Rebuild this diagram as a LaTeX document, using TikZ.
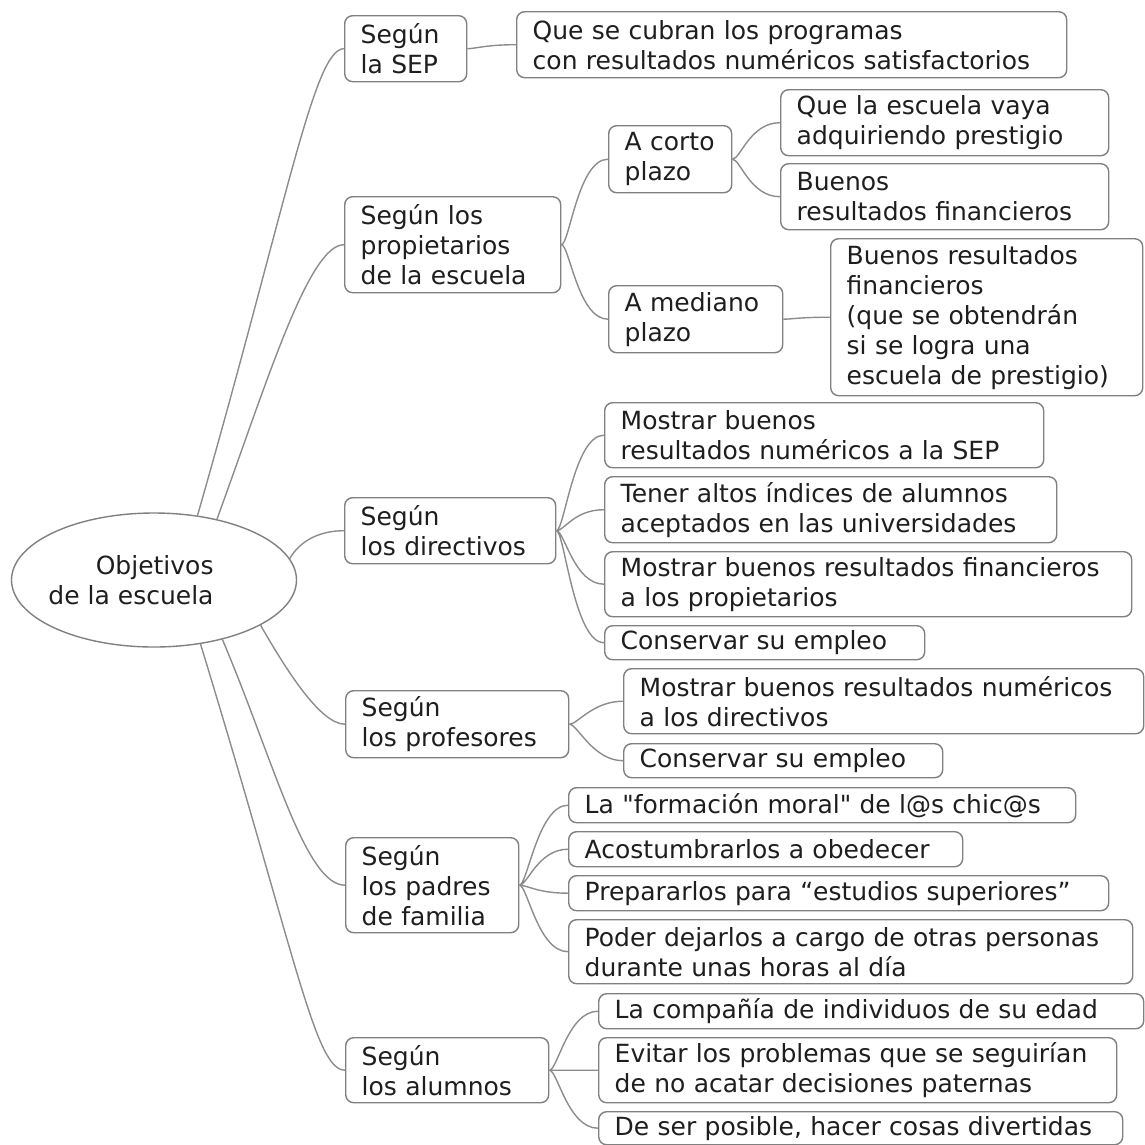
\documentclass[tikz,border=0pt]{standalone}
\usepackage{fontspec}
\setmainfont{DejaVu Sans}
\usepackage{xcolor}
\usepackage{tikz}
\usetikzlibrary{shapes.geometric}
\definecolor{mapline}{HTML}{8C8C8C}
\definecolor{mapframe}{HTML}{808080}
\definecolor{maptext}{HTML}{1E1E1E}
\tikzset{
  hub/.style={ellipse,draw=mapframe,line width=1.4pt,minimum width=285pt,
    minimum height=134pt,inner sep=0pt},
  topic/.style={rectangle,rounded corners=8pt,draw=mapframe,line width=1.4pt,
    fill=white,anchor=north west,align=left,inner xsep=16pt,inner ysep=2pt},
  link/.style={draw=mapline,line width=1.4pt},
  twig/.style={to path={.. controls +(8,0) and +(-30,0) .. (\tikztotarget)}}
}

\begin{document}
\begin{tikzpicture}[x=1pt,y=1pt,font=\fontsize{25}{30}\selectfont,text=maptext]
  \useasboundingbox (0,0) rectangle (1145,-1144);
  \node[hub,label={[align=right,xshift=-23pt]center:Objetivos\\de la escuela}] (root) at (154,-580) {};
  % first level
  \node[topic,text width=90pt,minimum height=66pt] (sep) at (344,-15) {Según\\la SEP};
  \node[topic,text width=184pt,minimum height=96pt] (prop) at (344,-196) {Según los\\propietarios\\de la escuela};
  \node[topic,text width=179pt,minimum height=66pt] (dir) at (344,-497) {Según\\los directivos};
  \node[topic,text width=191pt,minimum height=67pt] (prof) at (345,-690) {Según\\los profesores};
  \node[topic,text width=141pt,minimum height=95pt] (padres) at (345,-837) {Según\\los padres\\de familia};
  \node[topic,text width=171pt,minimum height=65pt] (alum) at (345,-1037) {Según\\los alumnos};
  % SEP and owners
  \node[topic,text width=518pt,minimum height=66pt] (sepA) at (516,-11) {Que se cubran los programas\\con resultados numéricos satisfactorios};
  \node[topic,text width=91pt,minimum height=67pt] (corto) at (608,-125) {A corto\\plazo};
  \node[topic,text width=296pt,minimum height=66pt] (cortoA) at (780,-89) {Que la escuela vaya\\adquiriendo prestigio};
  \node[topic,text width=296pt,minimum height=66pt] (cortoB) at (780,-163) {Buenos\\resultados financieros};
  \node[topic,text width=142pt,minimum height=67pt] (mediano) at (608,-285) {A mediano\\plazo};
  \node[topic,text width=280pt,minimum height=157pt] (medianoA) at (830,-238) {Buenos resultados\\financieros\\(que se obtendrán\\si se logra una\\escuela de prestigio)};
  % directors and teachers
  \node[topic,text width=407pt,minimum height=65pt] (dirA) at (604,-402) {Mostrar buenos\\resultados numéricos a la SEP};
  \node[topic,text width=420pt,minimum height=66pt] (dirB) at (604,-476) {Tener altos índices de alumnos\\aceptados en las universidades};
  \node[topic,text width=495pt,minimum height=65pt] (dirC) at (604,-551) {Mostrar buenos resultados financieros\\a los propietarios};
  \node[topic,text width=288pt,minimum height=34pt] (dirD) at (604,-625) {Conservar su empleo};
  \node[topic,text width=488pt,minimum height=65pt] (profA) at (623,-668) {Mostrar buenos resultados numéricos\\a los directivos};
  \node[topic,text width=287pt,minimum height=34pt] (profB) at (623,-743) {Conservar su empleo};
  % parents and pupils
  \node[topic,text width=475pt,minimum height=35pt] (padA) at (568,-787) {La \textquotedbl formación moral\textquotedbl{} de l@s chic@s};
  \node[topic,text width=362pt,minimum height=35pt] (padB) at (568,-831) {Acostumbrarlos a obedecer};
  \node[topic,text width=508pt,minimum height=35pt] (padC) at (568,-875) {Prepararlos para “estudios superiores”};
  \node[topic,text width=532pt,minimum height=64pt] (padD) at (568,-919) {Poder dejarlos a cargo de otras personas\\durante unas horas al día};
  \node[topic,text width=513pt,minimum height=35pt] (aluA) at (598,-993) {La compañía de individuos de su edad};
  \node[topic,text width=486pt,minimum height=65pt] (aluB) at (598,-1037) {Evitar los problemas que se seguirían\\de no acatar decisiones paternas};
  \node[topic,text width=492pt,minimum height=33pt] (aluC) at (598,-1111) {De ser posible, hacer cosas divertidas};
  % connectors
  \draw[link] (root.56) .. controls +(74:330) and +(-30,0) .. (sep.west);
  \draw[link] (root.44) .. controls +(70:150) and +(-35,0) .. (prop.west);
  \draw[link] (root.9) .. controls +(60:20) and +(-25,0) .. (dir.west);
  \draw[link] (root.-23) .. controls +(-60:50) and +(-25,0) .. (prof.west);
  \draw[link] (root.-41) .. controls +(-67:130) and +(-40,0) .. (padres.west);
  \draw[link] (root.-54) .. controls +(-73:330) and +(-30,0) .. (alum.west);
  \draw[link,twig] (sep.east) to (sepA.west);
  \draw[link,twig] (prop.east) to (corto.west) (prop.east) to (mediano.west);
  \draw[link,twig] (corto.east) to (cortoA.west) (corto.east) to (cortoB.west);
  \draw[link,twig] (mediano.east) to (medianoA.west);
  \draw[link,twig] (dir.east) to (dirA.west) (dir.east) to (dirB.west)
    (dir.east) to (dirC.west) (dir.east) to (dirD.west);
  \draw[link,twig] (prof.east) to (profA.west) (prof.east) to (profB.west);
  \draw[link,twig] (padres.east) to (padA.west) (padres.east) to (padB.west)
    (padres.east) to (padC.west) (padres.east) to (padD.west);
  \draw[link,twig] (alum.east) to (aluA.west) (alum.east) to (aluB.west)
    (alum.east) to (aluC.west);
\end{tikzpicture}
\end{document}
